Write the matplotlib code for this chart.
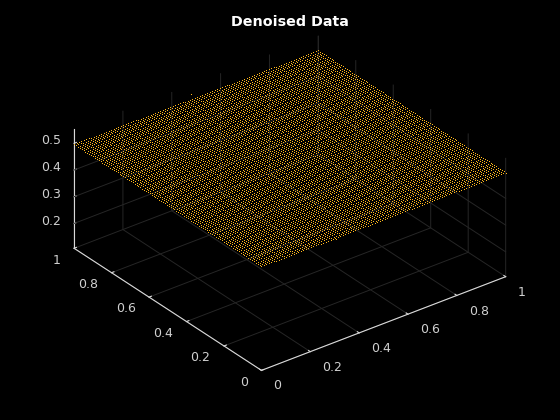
import numpy as np
import matplotlib
matplotlib.use("Agg")
import matplotlib.pyplot as plt
from matplotlib.text import Text
from matplotlib.transforms import Affine2D

title_text = "Denoised Data"
x_ticks = [0, 0.2, 0.4, 0.6, 0.8, 1]
y_ticks = [0, 0.2, 0.4, 0.6, 0.8, 1]
z_ticks = [0.2, 0.3, 0.4, 0.5]
z_grid_ticks = [0.2, 0.3, 0.4]
x_limits = (0, 1)
y_limits = (0, 1)
z_limits = (0.107, 0.552)
grid_size = 100
# The four corners of the plane, sit at nearly one height
z_level = 0.497
# Two stray points
stray_x = [0.48, 0.306]
stray_y = [1.0, 0.0]
stray_z = [0.518, 0.490]

x_grid, y_grid = np.meshgrid(np.linspace(0, 1, grid_size), np.linspace(0, 1, grid_size))
z_grid = np.full_like(x_grid, z_level)

fig = plt.figure(figsize=(5.6, 4.2), dpi=100, facecolor="black")
ax = fig.add_axes([0.0075, 0.003, 1.0, 1.0], projection="3d", proj_type="ortho", facecolor="black")
ax.computed_zorder = False
ax.view_init(elev=30, azim=232.5)
ax.set_box_aspect((310, 310, 138.2), zoom=1.055)
ax.set_xlim(*x_limits, view_margin=0)
ax.set_ylim(*y_limits, view_margin=0)
ax.set_zlim(*z_limits, view_margin=0)

grid_color = "#262626"
for z_value in z_grid_ticks:
    ax.plot(x_limits, [y_limits[1]] * 2, [z_value] * 2, color=grid_color, linewidth=0.7, clip_on=False, zorder=1)
    ax.plot([x_limits[1]] * 2, y_limits, [z_value] * 2, color=grid_color, linewidth=0.7, clip_on=False, zorder=1)

dot_style = dict(linestyle="none", marker="s", markersize=0.72, markeredgewidth=0,
                 color="#ffb81c", clip_on=False, zorder=2)
ax.plot(x_grid.ravel(), y_grid.ravel(), z_grid.ravel(), **dot_style)
ax.plot(stray_x, stray_y, stray_z, **dot_style)

ax.set_xticks(x_ticks, ["0", "0.2", "0.4", "0.6", "0.8", "1"])
ax.set_yticks(y_ticks, ["0", "0.2", "0.4", "0.6", "0.8", "1"])
ax.set_zticks(z_ticks, ["0.2", "0.3", "0.4", "0.5"])
for axis in (ax.xaxis, ax.yaxis, ax.zaxis):
    axis.set_pane_color((0, 0, 0, 1))
    axis.pane.set_edgecolor("none")
    axis.line.set_color("#d9d9d9")
    axis.line.set_linewidth(0.8)
    axis._axinfo["grid"].update(color=grid_color, linewidth=0.7)
    axis._axinfo["tick"].update(inward_factor=0.0, outward_factor=0.12, linewidth={True: 0.8, False: 0.8})
ax.zaxis._axinfo["grid"].update(color=(0, 0, 0, 0))
ax.zaxis._axinfo["tickdir"] = 1
ax.tick_params(colors="#d0d0d0", labelsize=9, color="#d9d9d9")
ax.xaxis.set_tick_params(pad=2.2)
ax.yaxis.set_tick_params(pad=0.7)
ax.zaxis.set_tick_params(pad=-3.3)


def nudge(labels, ha, dx, dy):
    # mplot3d resets each label's transform when it draws, so the pixel shift goes inside that call
    for label in labels:
        label.set_ha(ha)
        label.set_va("center")
        label.set_transform = lambda t, lab=label: Text.set_transform(lab, t + Affine2D().translate(dx, dy))


nudge(ax.get_xticklabels(), "left", 0, 0)
nudge(ax.get_yticklabels(), "right", 0, 0)
nudge(ax.get_zticklabels(), "right", 0, 1.5)
fig.text(0.518, 0.947, title_text, color="white", fontsize=10.3, fontweight="bold", ha="center", va="center")
fig.savefig("out.png", dpi=100, facecolor="black")
